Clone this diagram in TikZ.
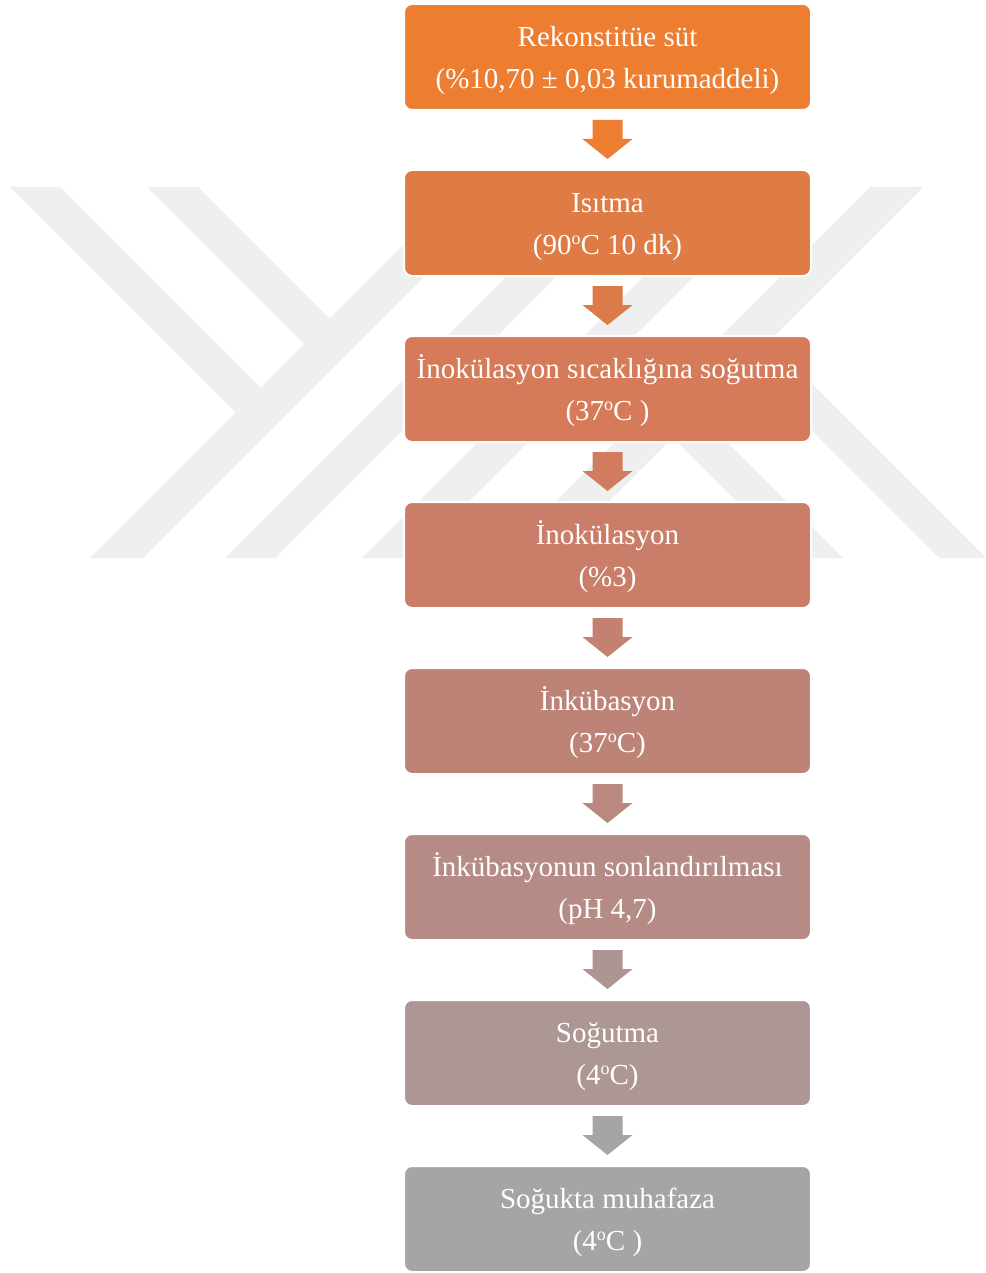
\documentclass[tikz,border=0pt]{standalone}
\usepackage{fontspec}
\setmainfont{Liberation Serif}
\usetikzlibrary{calc}
\definecolor{c1}{HTML}{ED7D31}
\definecolor{c2}{HTML}{DF7B45}
\definecolor{c3}{HTML}{D57B59}
\definecolor{c4}{HTML}{CA7D69}
\definecolor{c5}{HTML}{BE8377}
\definecolor{c6}{HTML}{B58B86}
\definecolor{c7}{HTML}{AD9795}
\definecolor{c8}{HTML}{A5A5A5}
\definecolor{wm}{HTML}{EFEFEF}
\colorlet{a1}{c1}
\colorlet{a2}{c2!83!c3}
\colorlet{a3}{c3!67!c4}
\colorlet{a4}{c4!50!c5}
\colorlet{a5}{c5!33!c6}
\colorlet{a6}{c6!17!c7}
\colorlet{a7}{c8}
\newcommand\flowarrow[3]{%
  \fill[#3] ($(#1.south)+(-15,9)$) -- ($(#1.south)+(15,9)$) -- ($(#1.south)+(15,28)$)
  -- ($(#1.south)+(25,28)$) -- ($(#2.north)+(0,-10)$) -- ($(#1.south)+(-25,28)$)
  -- ($(#1.south)+(-15,28)$) -- cycle;}
\newcommand\degsup{{\fontsize{9}{9}\selectfont\raisebox{5.2pt}{o}}}
\newcommand\toprule{\rule{0pt}{14pt}}
\begin{document}
\begin{tikzpicture}[x=0.5pt,y=-0.5pt,
  stepbox/.style={rectangle, rounded corners=4pt, draw=white, line width=1pt,
    minimum width=203.5pt, minimum height=53pt, inner sep=0pt, text=white,
    align=center, font=\fontsize{14.5}{21}\selectfont},
  wmark/.style={fill=wm}]
\fill[white] (0,0) rectangle (985,1273);
\useasboundingbox (0,0) rectangle (985,1273);
% watermark
\begin{scope}
\clip (0,187) rectangle (985,558);
\fill[wmark] (461,187) -- (514,187) -- (143,558) -- (90,558) -- cycle;
\fill[wmark] (596,187) -- (646,187) -- (275,558) -- (225,558) -- cycle;
\fill[wmark] (733,187) -- (783,187) -- (412,558) -- (362,558) -- cycle;
\fill[wmark] (870,187) -- (923,187) -- (552,558) -- (499,558) -- cycle;
\fill[wmark] (10,187) -- (60,187) -- (274,401) -- (249,426) -- cycle;
\fill[wmark] (147,187) -- (198,187) -- (343,332) -- (317.5,357.5) -- cycle;
\fill[wmark] (756.5,328.5) -- (733,352) -- (939,558) -- (986,558) -- cycle;
\fill[wmark] (685,400) -- (660,425) -- (793,558) -- (843,558) -- cycle;
\end{scope}
% boxes
\node[stepbox, fill=c1] (b1) at (607.5,57) {\toprule Rekonstitüe süt\\(\%10,70 ± 0,03 kurumaddeli)};
\node[stepbox, fill=c2] (b2) at (607.5,223) {\toprule Isıtma\\(90\degsup C 10 dk)};
\node[stepbox, fill=c3] (b3) at (607.5,389) {\toprule İnokülasyon sıcaklığına soğutma\\(37\degsup C )};
\node[stepbox, fill=c4] (b4) at (607.5,555) {\toprule İnokülasyon\\(\%3)};
\node[stepbox, fill=c5] (b5) at (607.5,721) {\toprule İnkübasyon\\(37\degsup C)};
\node[stepbox, fill=c6] (b6) at (607.5,887) {\toprule İnkübasyonun sonlandırılması\\(pH 4,7)};
\node[stepbox, fill=c7] (b7) at (607.5,1053) {\toprule Soğutma\\(4\degsup C)};
\node[stepbox, fill=c8] (b8) at (607.5,1219) {\toprule Soğukta muhafaza\\(4\degsup C )};
% arrows
\flowarrow{b1}{b2}{a1}
\flowarrow{b2}{b3}{a2}
\flowarrow{b3}{b4}{a3}
\flowarrow{b4}{b5}{a4}
\flowarrow{b5}{b6}{a5}
\flowarrow{b6}{b7}{a6}
\flowarrow{b7}{b8}{a7}
\end{tikzpicture}
\end{document}
